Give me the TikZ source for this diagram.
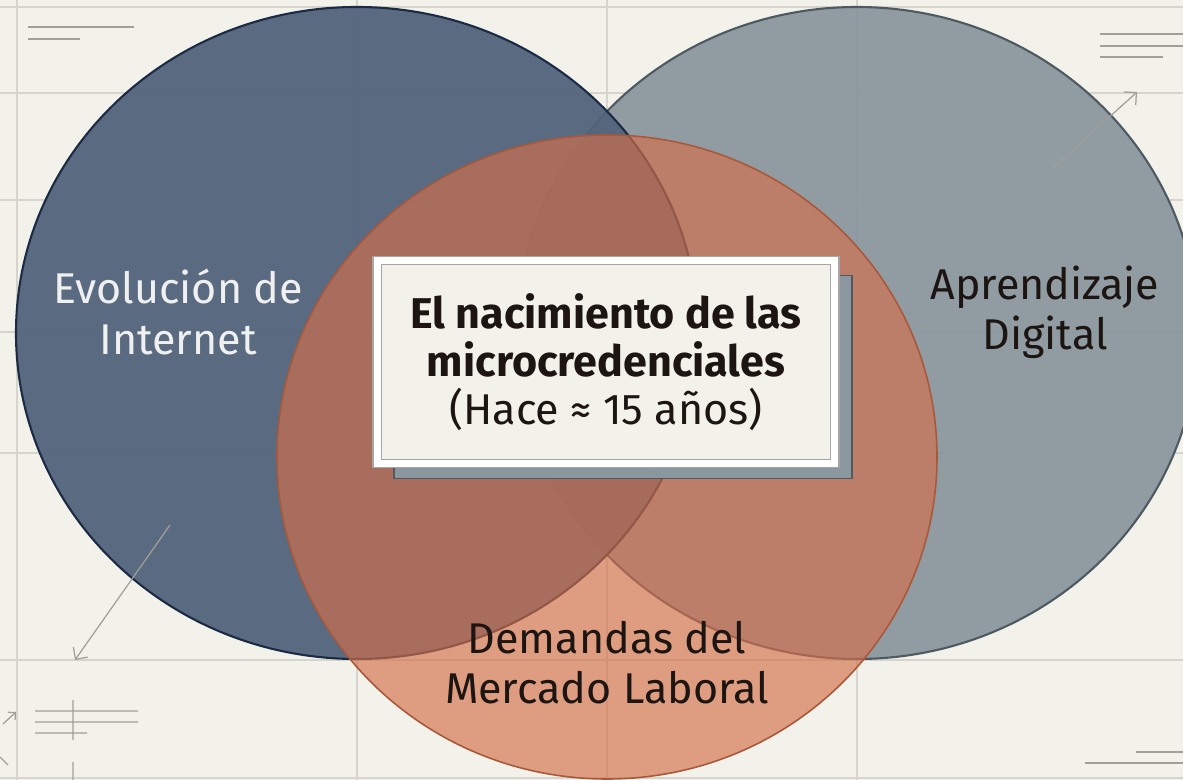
\documentclass[tikz,border=0pt]{standalone}
\usepackage{fontspec}
\setmainfont{Fira Sans}
\usetikzlibrary{arrows.meta}
\definecolor{paper}{HTML}{F3F2EA}
\definecolor{gridc}{HTML}{D6D4CC}
\definecolor{navy}{HTML}{52647C}
\definecolor{navyline}{HTML}{1B2B45}
\definecolor{slate}{HTML}{8B979F}
\definecolor{slateline}{HTML}{4E5A62}
\definecolor{rust}{HTML}{D46F4A}
\definecolor{rustline}{HTML}{A9583A}
\definecolor{ink}{HTML}{1C1512}
\begin{document}
\begin{tikzpicture}[x=0.02cm,y=-0.02cm,
    gridline/.style={gridc,line width=0.6pt},
    deco/.style={gridc!75!black,line width=0.7pt},
    lbl/.style={align=center,font=\fontsize{24.5}{28.5}\selectfont},
    card/.style={minimum width=9.16cm,minimum height=4.06cm,inner sep=0pt}]
\fill[paper] (0,0) rectangle (1183,780);
\useasboundingbox (0,0) rectangle (1183,780);
\foreach \y in {7,93,200,332,453,660,778}
    \draw[gridline] (0,\y) -- (1183,\y);
\foreach \x in {17,357,607,857}
    \draw[gridline] (\x,0) -- (\x,780);
% small marks on the paper
\draw[deco] (28,27) -- (134,27) (28,39) -- (80,39);
\draw[deco] (1100,34) -- (1183,34) (1100,46) -- (1183,46) (1100,57) -- (1163,57);
\draw[deco] (35,711) -- (138,711) (35,722) -- (138,722) (35,733) -- (87,733)
    (73,700) -- (73,740) (73,762) -- (73,780) (0,757) -- (8,765);
\draw[deco] (1136,752) -- (1183,752) (1085,763) -- (1183,763);
\draw[deco,-{Straight Barb[length=3pt,width=6pt]}] (3,724) -- (16,712);
% the three sets
\filldraw[fill=slate,fill opacity=0.95,draw=slateline,line width=1.2pt] (857,333) ellipse (341 and 326);
\filldraw[fill=navy,fill opacity=0.95,draw=navyline,line width=1.2pt] (357,333) ellipse (341 and 326);
\filldraw[fill=rust,fill opacity=0.65,draw=rustline,line width=0.9pt] (607,457) ellipse (330 and 322);
\node[lbl,text=white!94!black] (evo) at (178,312) {Evolución de\\Internet};
\node[lbl,text=ink] (apr) at (1045,312) {Aprendizaje\\Digital};
\node[lbl,text=ink] (dem) at (607,663) {Demandas del\\Mercado Laboral};
\coordinate (up0) at (1053,168);
\coordinate (up1) at (1137,92);
\draw[deco,-{Straight Barb[length=5pt,width=10pt]}] (up0) -- (up1);
\coordinate (dn0) at (170,525);
\coordinate (dn1) at (75,660);
\draw[deco,-{Straight Barb[length=5pt,width=10pt]}] (dn0) -- (dn1);
% centre card
\node[card,fill=slate,draw=slateline,line width=0.8pt] (shadow) at (623,377) {};
\node[card,fill=paper,draw=gray!70,double=white!97!paper,double distance=4pt,line width=0.6pt,
    align=center,font=\fontsize{24.5}{27.5}\selectfont,text=ink] (birth) at (606,362)
    {\textbf{El nacimiento de las}\\\textbf{microcredenciales}\\(Hace ≈ 15 años)};
\end{tikzpicture}
\end{document}
